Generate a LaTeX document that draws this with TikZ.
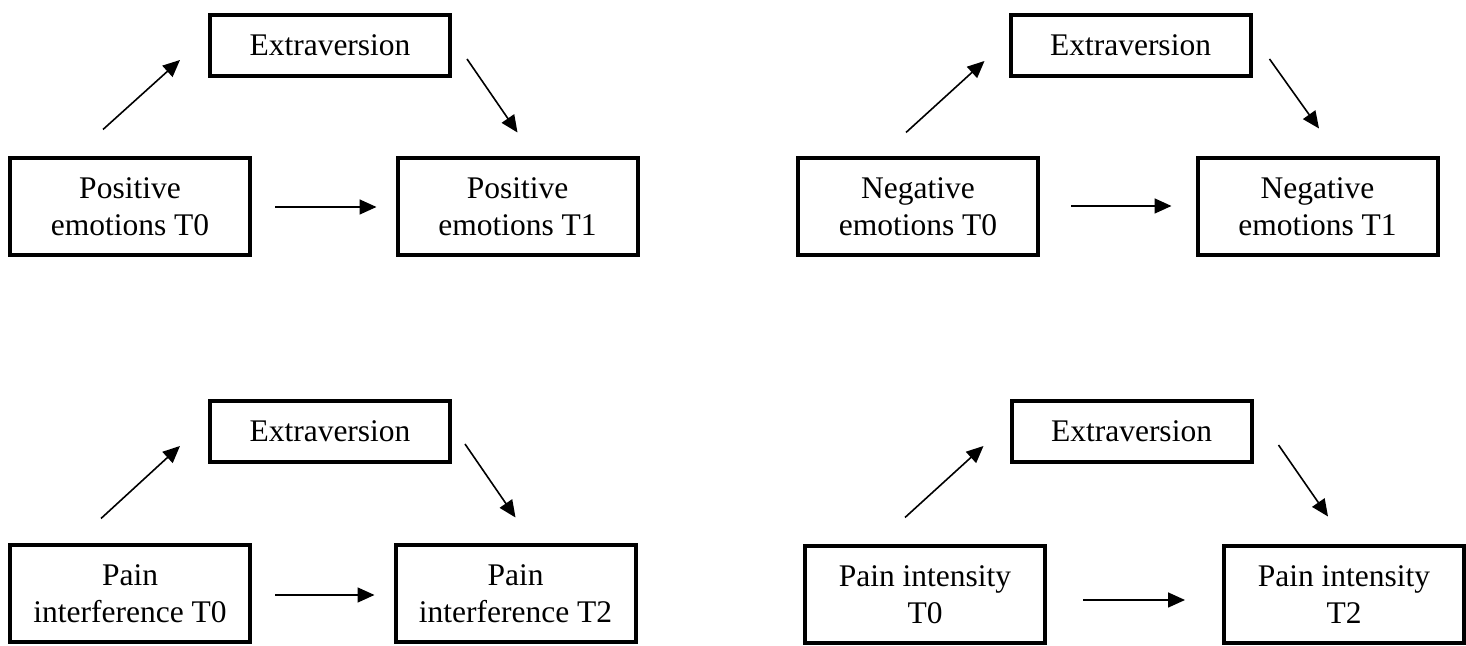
\documentclass[tikz,border=0pt]{standalone}
\usepackage{fontspec}
\setmainfont{Liberation Serif}
\usepackage{tikz}
\usetikzlibrary{arrows.meta, positioning}

\begin{document}
\begin{tikzpicture}[x = 0.5pt, y = 0.5pt,
  varbox/.style = {draw, line width = 2pt, minimum width = 120pt, minimum height = 48.5pt, inner sep = 0pt, align = center, font = \fontsize{15.75}{18.5}\selectfont},
  extbox/.style = {varbox, minimum height = 30.5pt},
  link/.style = {line width = 0.8pt, -{Triangle[length = 8.5pt, width = 7.5pt]}}]
\useasboundingbox (0,0) rectangle (1466,646);
\node[extbox] (ext1) at (330,600.5) {Extraversion};
\node[varbox] (pe0) at (130,439) {Positive\\emotions T0};
\node[varbox] (pe1) at (517.5,439) {Positive\\emotions T1};
\draw[link] ([shift = {(-27,27)}]pe0.north) -- ([shift = {(-28,18)}]ext1.south west);
\draw[link] ([shift = {(15,19)}]ext1.south east) -- ([shift = {(0,24)}]pe1.north);
\draw[link] ([shift = {(23,0)}]pe0.east) -- ([shift = {(-19,0)}]pe1.west);
\node[extbox] (ext2) at (1130.5,600.5) {Extraversion};
\node[varbox] (ng0) at (918,439) {Negative\\emotions T0};
\node[varbox] (ng1) at (1317.5,439) {Negative\\emotions T1};
\draw[link] ([shift = {(-12,24)}]ng0.north) -- ([shift = {(-24,17)}]ext2.south west);
\draw[link] ([shift = {(17,19)}]ext2.south east) -- ([shift = {(1.5,28)}]ng1.north);
\draw[link] ([shift = {(31,1)}]ng0.east) -- ([shift = {(-24,1)}]ng1.west);
\node[extbox] (ext3) at (330,214.5) {Extraversion};
\node[varbox] (pi0) at (130,52) {Pain\\interference T0};
\node[varbox] (pi1) at (515.5,52) {Pain\\interference T2};
\draw[link] ([shift = {(-29,25)}]pi0.north) -- ([shift = {(-28,18)}]ext3.south west);
\draw[link] ([shift = {(13,20)}]ext3.south east) -- ([shift = {(0,26)}]pi1.north);
\draw[link] ([shift = {(23,-1)}]pi0.east) -- ([shift = {(-19,-1)}]pi1.west);
\node[extbox] (ext4) at (1131.5,214.5) {Extraversion};
\node[varbox] (ip0) at (925,51) {Pain intensity\\T0};
\node[varbox] (ip1) at (1344,51) {Pain intensity\\T2};
\draw[link] ([shift = {(-20,27)}]ip0.north) -- ([shift = {(-26,18)}]ext4.south west);
\draw[link] ([shift = {(25,19)}]ext4.south east) -- ([shift = {(-16,28)}]ip1.north);
\draw[link] ([shift = {(36,-5)}]ip0.east) -- ([shift = {(-37,-5)}]ip1.west);
\end{tikzpicture}
\end{document}
